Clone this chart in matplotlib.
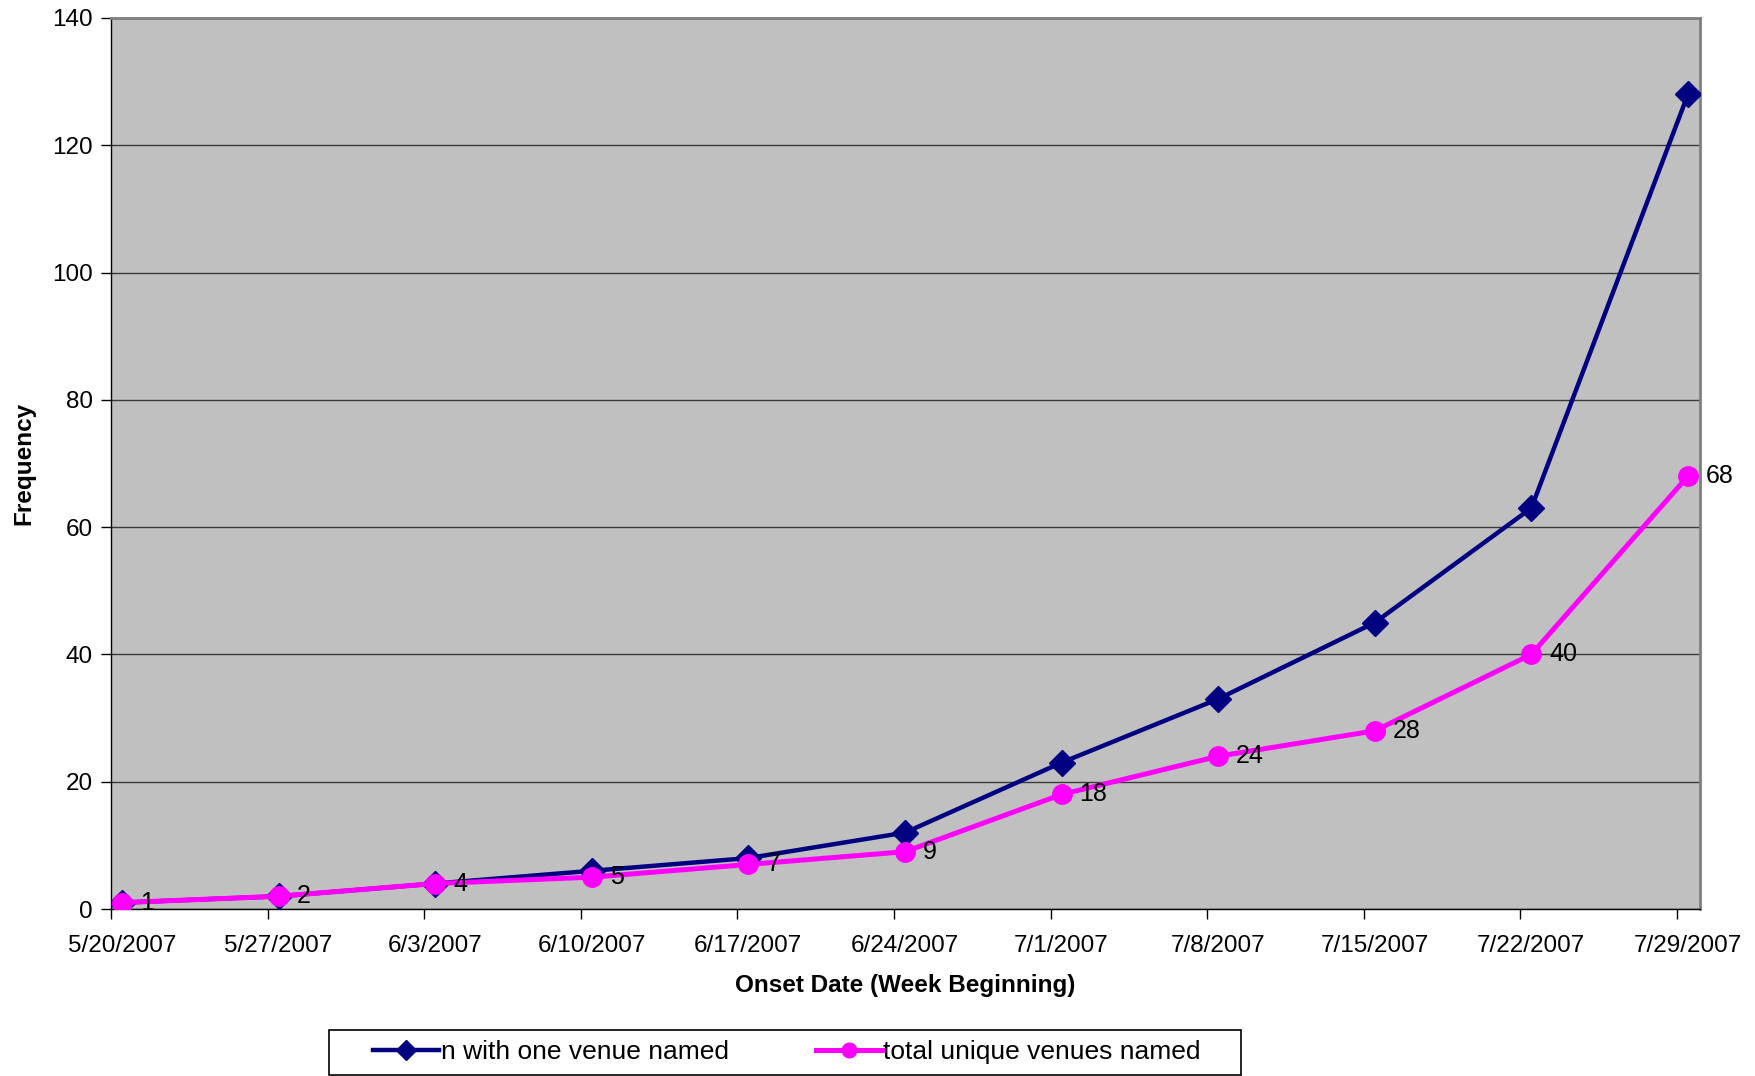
import matplotlib
matplotlib.use("Agg")
import matplotlib.pyplot as plt
from matplotlib.patches import Rectangle

plt.rcParams['font.family'] = ['Liberation Sans', 'DejaVu Sans']

weeks = ["5/20/2007", "5/27/2007", "6/3/2007", "6/10/2007", "6/17/2007",
         "6/24/2007", "7/1/2007", "7/8/2007", "7/15/2007", "7/22/2007",
         "7/29/2007"]
one_venue = [1, 2, 4, 6, 8, 12, 23, 33, 45, 63, 128]
unique_venues = [1, 2, 4, 5, 7, 9, 18, 24, 28, 40, 68]
y_ticks = [0, 20, 40, 60, 80, 100, 120, 140]

NAVY = "#000080"
MAGENTA = "#FF00FF"
FS = 17.5

W, H = 1756, 1076
fig = plt.figure(figsize=(W / 100, H / 100), dpi=100)
ax = fig.add_axes([111 / W, 1 - 909 / H, (1700 - 111) / W, (909 - 18) / H])
ax.set_facecolor("#C0C0C0")

x = list(range(len(weeks)))
ax.plot(x, one_venue, color=NAVY, lw=3.2, marker="D", markersize=13,
        markerfacecolor=NAVY, markeredgecolor=NAVY, zorder=3,
        label="n with one venue named")
ax.plot(x, unique_venues, color=MAGENTA, lw=3.6, marker="o", markersize=14,
        markerfacecolor=MAGENTA, markeredgecolor=MAGENTA, zorder=4,
        label="total unique venues named")

for xi, v in zip(x, unique_venues):
    ax.annotate(str(v), (xi, v), xytext=(13, 0), textcoords="offset points",
                ha="left", va="center", fontsize=FS + 0.5, color="black", zorder=5,
                annotation_clip=False)

ax.set_xlim(-0.07, 10.077)
ax.set_ylim(0, 140)
ax.set_yticks(y_ticks)
ax.yaxis.grid(True, color="#3a3a3a", lw=1.0)
ax.set_axisbelow(True)

ax.set_xticks(x)
ax.set_xticklabels(weeks)
ax.set_xticks([i - 0.07 for i in x], minor=True)
ax.tick_params(axis="x", which="major", length=0, pad=19, labelsize=FS)
ax.tick_params(axis="x", which="minor", length=7, width=1, direction="out")
ax.tick_params(axis="y", length=7, width=1, direction="out", pad=6, labelsize=FS)

for side in ("top", "right"):
    ax.spines[side].set_color("#808080")
    ax.spines[side].set_linewidth(2)
for side in ("left", "bottom"):
    ax.spines[side].set_color("black")
    ax.spines[side].set_linewidth(1)

ax.set_xlabel("Onset Date (Week Beginning)", fontsize=FS, fontweight="bold", labelpad=12)
ax.set_ylabel("Frequency", fontsize=FS, fontweight="bold", labelpad=12)

# legend box below the plot, drawn as its own frame
fig.patches.append(Rectangle((329 / W, 1 - 1075 / H), (1241 - 329) / W, 45 / H,
                             transform=fig.transFigure, facecolor="white",
                             edgecolor="black", lw=1.2, zorder=1))
leg = fig.legend(loc="center", bbox_to_anchor=(787 / W, 1 - 1052 / H),
                 ncol=2, fontsize=19, frameon=False, handlelength=2.5,
                 handletextpad=0.05, columnspacing=3.3, borderaxespad=0,
                 markerscale=0.75)

fig.savefig("out.png", dpi=100, facecolor="white")
